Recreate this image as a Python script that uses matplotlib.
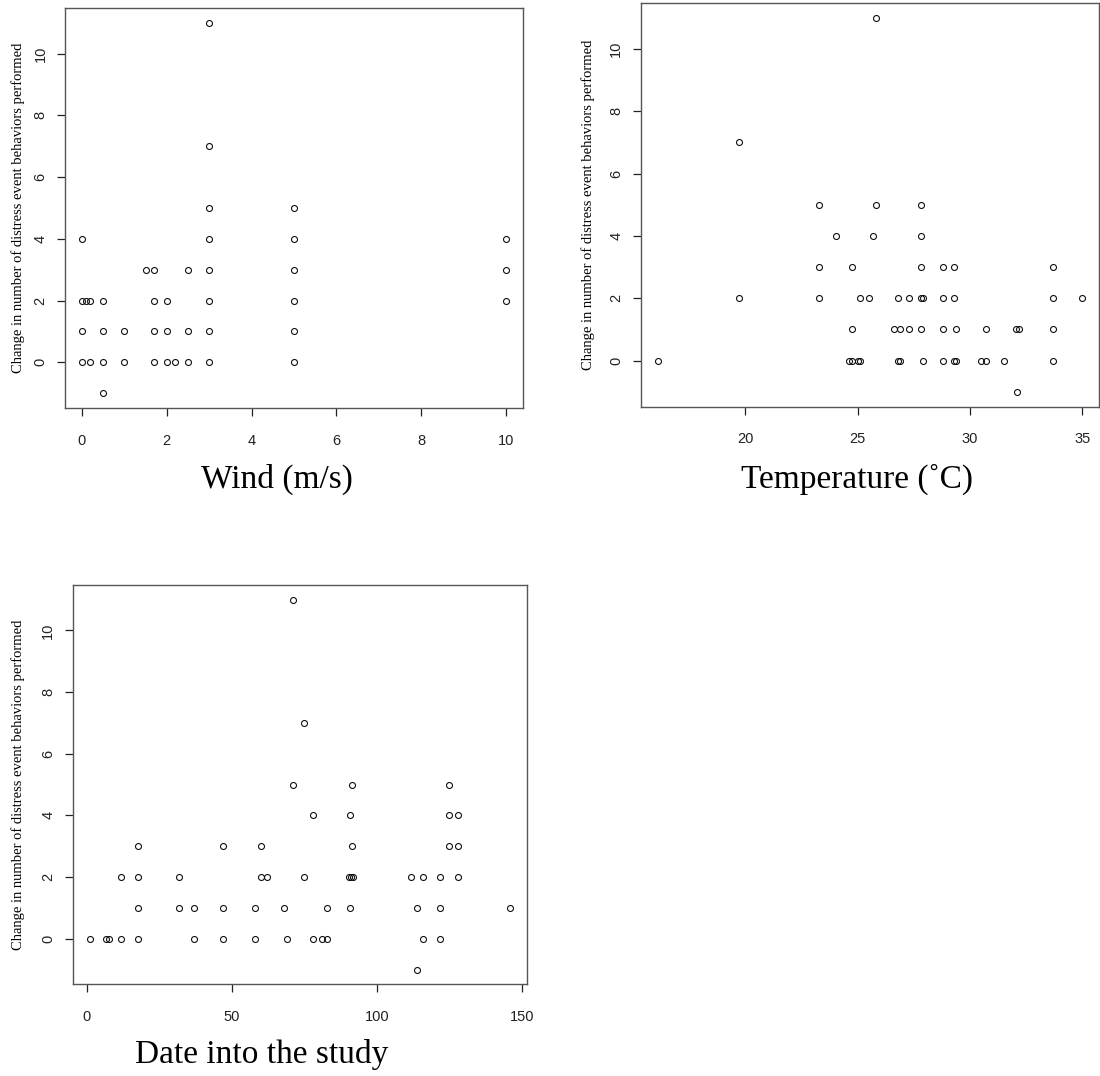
import matplotlib
matplotlib.use("Agg")
import matplotlib.pyplot as plt

# change in distress event behaviours (y) against three predictors
wind = [3, 3, 5, 3, 0, 3, 5, 10,
        1.5, 1.7, 2.5, 3, 5, 10,
        0, 0.1, 0.2, 0.5, 1.7, 2, 3, 5, 10,
        0, 0.5, 1, 1.7, 2, 2.5, 3, 5,
        0, 0.2, 0.5, 1, 1.7, 2, 2.2, 2.5, 3, 5,
        0.5]
wind_y = [11, 7, 5, 5, 4, 4, 4, 4,
          3, 3, 3, 3, 3, 3,
          2, 2, 2, 2, 2, 2, 2, 2, 2,
          1, 1, 1, 1, 1, 1, 1, 1,
          0, 0, 0, 0, 0, 0, 0, 0, 0, 0,
          -1]

temp = [25.8, 19.7,
        23.3, 25.8, 27.8,
        24.05, 25.7, 27.8,
        23.3, 24.75, 27.8, 28.8, 29.3, 33.7,
        19.7, 23.3, 25.1, 25.5, 26.8, 27.3, 27.8, 27.9, 28.8, 29.3, 33.7, 35.0,
        24.75, 26.6, 26.9, 27.3, 27.8, 28.8, 29.4, 30.7, 32.05, 32.2, 33.7,
        16.1, 24.6, 24.75, 25.0, 25.1, 26.8, 26.9, 27.9, 28.8, 29.3, 29.4, 30.5, 30.7, 31.5, 33.7,
        32.1]
temp_y = [11, 7,
          5, 5, 5,
          4, 4, 4,
          3, 3, 3, 3, 3, 3,
          2, 2, 2, 2, 2, 2, 2, 2, 2, 2, 2, 2,
          1, 1, 1, 1, 1, 1, 1, 1, 1, 1, 1,
          0, 0, 0, 0, 0, 0, 0, 0, 0, 0, 0, 0, 0, 0, 0,
          -1]

day = [71, 75,
       71, 91.6, 124.8,
       78, 90.7, 124.8, 128,
       17.7, 47, 60, 91.6, 124.8, 128,
       11.7, 17.7, 32, 60, 62.2, 75, 90.6, 91.1, 91.7, 111.7, 116, 121.8, 128,
       17.7, 32, 37, 47, 58, 68.2, 83, 90.7, 113.8, 121.8, 146,
       1, 6.6, 7.7, 11.7, 17.7, 37, 47, 58, 69, 78, 81, 83, 116, 121.8,
       113.8]
day_y = [11, 7,
         5, 5, 5,
         4, 4, 4, 4,
         3, 3, 3, 3, 3, 3,
         2, 2, 2, 2, 2, 2, 2, 2, 2, 2, 2, 2, 2,
         1, 1, 1, 1, 1, 1, 1, 1, 1, 1, 1,
         0, 0, 0, 0, 0, 0, 0, 0, 0, 0, 0, 0, 0, 0,
         -1]

ylab = "Change in number of distress event behaviors performed"

W, H = 1100, 1076
fig = plt.figure(figsize=(W/100, H/100), dpi=100)

def box(l, r, t, b):
    return [l/W, 1-b/H, (r-l)/W, (b-t)/H]

panels = [
    (wind, wind_y, box(65, 523, 8, 408), [0, 2, 4, 6, 8, 10], "Wind (m/s)", (277, 479)),
    (temp, temp_y, box(640.7, 1099.3, 2.7, 406.7), [20, 25, 30, 35], "Temperature (\u02daC)", (857, 479)),
    (day, day_y, box(72.7, 527, 584.7, 984.3), [0, 50, 100, 150], "Date into the study", (262, 1054)),
]
ylab_x = [18, 588, 18]

for i, (x, y, pos, xt, xl, lp) in enumerate(panels):
    ax = fig.add_axes(pos)
    ax.plot(x, y, "o", ms=4.3, mfc="none", mec="#111111", mew=0.8, ls="none")
    lo, hi = min(x), max(x)
    pad = 0.04*(hi-lo)
    ax.set_xlim(lo-pad, hi+pad)
    ax.set_ylim(-1.48, 11.48)
    ax.set_xticks(xt)
    ax.set_yticks([0, 2, 4, 6, 8, 10])
    for s in ax.spines.values():
        s.set_color("#555555")
        s.set_linewidth(1.0)
    ax.tick_params(length=5.5, width=0.9, color="#222222", labelcolor="#222222",
                   labelsize=10.5, pad=13)
    for t in ax.get_xticklabels() + ax.get_yticklabels():
        t.set_family("Liberation Sans")
    for t in ax.get_yticklabels():
        t.set_rotation(90)
        t.set_va("center")
    ax.tick_params(axis="y", pad=7)
    fig.text(lp[0]/W, 1-lp[1]/H, xl, family="Liberation Serif", fontsize=24,
             ha="center", va="center", color="black")
    fig.text(ylab_x[i]/W, pos[1]+pos[3]/2, ylab, family="Liberation Serif",
             fontsize=10.5, rotation=90, ha="center", va="center", color="black")

fig.savefig("out.png", dpi=100)
